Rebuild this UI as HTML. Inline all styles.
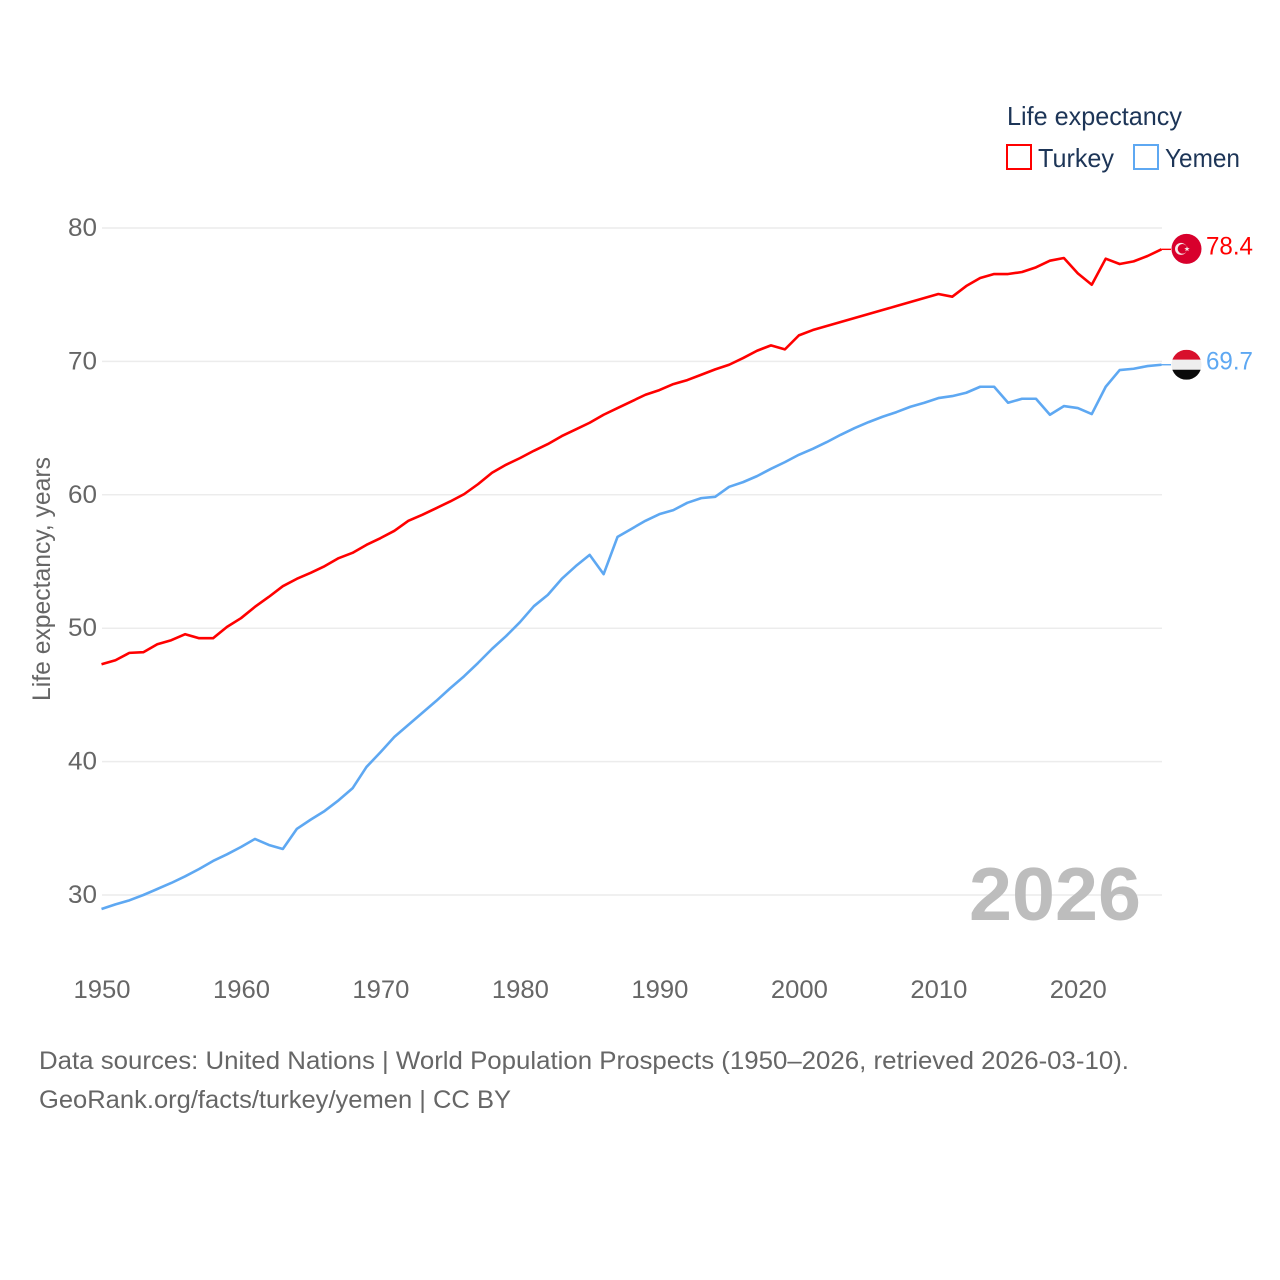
<!DOCTYPE html>
<html lang="en">
<head>
<meta charset="utf-8">
<title>Life expectancy: Turkey and Yemen</title>
<style>
  html, body { margin: 0; padding: 0; background: #fff; }
  svg { display: block; font-family: "Liberation Sans", sans-serif; }
  .tick { fill: #666; font-size: 25px; }
  .foot { fill: #666; font-size: 25px; }
  .leg { fill: #1d3557; font-size: 26px; }
</style>
</head>
<body>
<svg id="chart" xmlns="http://www.w3.org/2000/svg" width="1280" height="1280" viewBox="0 0 1280 1280">
  <defs>
    <clipPath id="flag-clip"><circle cx="0" cy="0" r="15"></circle></clipPath>
  </defs>
  <g id="grid"></g>
  <g id="yticks"></g>
  <g id="xticks"></g>
  <text class="tick" transform="translate(50,579) rotate(-90)" text-anchor="middle" textLength="244" lengthAdjust="spacingAndGlyphs">Life expectancy, years</text>
  <g id="series"></g>
  <text x="969" y="920" font-size="75" font-weight="700" fill="#bdbdbd" textLength="172" lengthAdjust="spacingAndGlyphs">2026</text>

  <g>
    <text class="leg" x="1007" y="125" textLength="175" lengthAdjust="spacingAndGlyphs">Life expectancy</text>
    <g>
      <rect x="1007" y="145" width="24" height="24" fill="none" stroke="#ff0000" stroke-width="2"></rect>
      <text class="leg" x="1038" y="167" textLength="76" lengthAdjust="spacingAndGlyphs">Turkey</text>
    </g>
    <g>
      <rect x="1134" y="145" width="24" height="24" fill="none" stroke="#5ea8f2" stroke-width="2"></rect>
      <text class="leg" x="1165" y="167" textLength="75" lengthAdjust="spacingAndGlyphs">Yemen</text>
    </g>
  </g>

  <g id="turkey-flag">
    <circle cx="0" cy="0" r="15" fill="#d8002c"></circle>
    <circle cx="-5.5" cy="0" r="6" fill="#f5e9ea"></circle>
    <circle cx="-4" cy="0" r="4.8" fill="#d8002c"></circle>
    <polygon points="0.5,-2.6 1.2,-0.7 3.2,-0.7 1.6,0.5 2.2,2.4 0.5,1.3 -1.2,2.4 -0.6,0.5 -2.2,-0.7 -0.2,-0.7" fill="#f5e9ea"></polygon>
  </g>
  <g id="yemen-flag">
    <g clip-path="url(#flag-clip)">
      <rect x="-15" y="-15" width="30" height="10" fill="#d8102c"></rect>
      <rect x="-15" y="-5" width="30" height="10" fill="#eeeeee"></rect>
      <rect x="-15" y="5" width="30" height="10" fill="#0a0a0a"></rect>
    </g>
  </g>
  <text id="turkey-value" font-size="25" fill="#ff0000" x="1206" textLength="47" lengthAdjust="spacingAndGlyphs"></text>
  <text id="yemen-value" font-size="25" fill="#5ea8f2" x="1206" textLength="47" lengthAdjust="spacingAndGlyphs"></text>

  <g>
    <text class="foot" x="39" y="1069" textLength="1090" lengthAdjust="spacingAndGlyphs">Data sources: United Nations | World Population Prospects (1950–2026, retrieved 2026-03-10).</text>
    <text class="foot" x="39" y="1108" textLength="472" lengthAdjust="spacingAndGlyphs">GeoRank.org/facts/turkey/yemen | CC BY</text>
  </g>
</svg>
<script>
const firstYear = 1950;
const xTickYears = [1950, 1960, 1970, 1980, 1990, 2000, 2010, 2020];
const yTickValues = [30, 40, 50, 60, 70, 80];
const turkeyValues = [
  47.3, 47.6, 48.15, 48.2, 48.8, 49.1, 49.55, 49.25, 49.25, 50.1,
  50.75, 51.6, 52.35, 53.15, 53.7, 54.15, 54.65, 55.25, 55.65, 56.25,
  56.75, 57.3, 58.05, 58.5, 59.0, 59.5, 60.05, 60.8, 61.65, 62.25,
  62.75, 63.3, 63.8, 64.4, 64.9, 65.4, 66.0, 66.5, 67.0, 67.5,
  67.85, 68.3, 68.6, 69.0, 69.4, 69.75, 70.25, 70.8, 71.2, 70.9,
  71.95, 72.35, 72.65, 72.95, 73.25, 73.55, 73.85, 74.15, 74.45, 74.75,
  75.05, 74.85, 75.65, 76.25, 76.55, 76.55, 76.7, 77.05, 77.55, 77.75,
  76.6, 75.75, 77.7, 77.3, 77.5, 77.9, 78.4
];
const yemenValues = [
  28.95, 29.3, 29.6, 30.0, 30.45, 30.9, 31.4, 31.95, 32.55, 33.05,
  33.6, 34.2, 33.75, 33.45, 34.95, 35.65, 36.3, 37.1, 38.0, 39.6,
  40.7, 41.85, 42.75, 43.65, 44.55, 45.5, 46.4, 47.4, 48.45, 49.4,
  50.45, 51.65, 52.5, 53.7, 54.65, 55.5, 54.05, 56.85, 57.45, 58.05,
  58.55, 58.85, 59.4, 59.75, 59.85, 60.6, 60.95, 61.4, 61.95, 62.45,
  63.0, 63.45, 63.95, 64.5, 65.0, 65.45, 65.85, 66.2, 66.6, 66.9,
  67.25, 67.4, 67.65, 68.1, 68.1, 66.9, 67.2, 67.2, 66.0, 66.65,
  66.5, 66.05, 68.1, 69.35, 69.45, 69.65, 69.75
];
const turkeyLabel = "78.4";
const yemenLabel = "69.7";

const NS = "http://www.w3.org/2000/svg";
function xScale(year) { return 101.5 + (year - 1950) * (1161.5 - 101.5) / 76; }
function yScale(value) { return 895 - (value - 30) * (895 - 228) / 50; }

const gridGroup = document.getElementById("grid");
const yTickGroup = document.getElementById("yticks");
const xTickGroup = document.getElementById("xticks");
const seriesGroup = document.getElementById("series");

yTickValues.forEach(function (v) {
  const line = document.createElementNS(NS, "line");
  
  
  line.setAttribute("x1", 102);
  line.setAttribute("x2", 1162);
  line.setAttribute("y1", yScale(v));
  line.setAttribute("y2", yScale(v));
  line.setAttribute("stroke", "#ececec");
  line.setAttribute("stroke-width", 1.5);
  gridGroup.appendChild(line);

  const t = document.createElementNS(NS, "text");
  
  
  t.setAttribute("class", "tick");
  t.setAttribute("x", 97);
  t.setAttribute("y", yScale(v) + 8);
  t.setAttribute("text-anchor", "end");
  t.setAttribute("textLength", 29);
  t.setAttribute("lengthAdjust", "spacingAndGlyphs");
  t.textContent = String(v);
  yTickGroup.appendChild(t);
});

xTickYears.forEach(function (yr) {
  const t = document.createElementNS(NS, "text");
  
  
  t.setAttribute("class", "tick");
  t.setAttribute("x", xScale(yr) + 0.5);
  t.setAttribute("y", 998);
  t.setAttribute("text-anchor", "middle");
  t.setAttribute("textLength", 57);
  t.setAttribute("lengthAdjust", "spacingAndGlyphs");
  t.textContent = String(yr);
  xTickGroup.appendChild(t);
});

function linePath(values) {
  return values.map(function (v, i) {
    return (i ? "L" : "M") + xScale(firstYear + i).toFixed(2) + " " + yScale(v).toFixed(2);
  }).join(" ");
}

const turkeyLine = document.createElementNS(NS, "path");


turkeyLine.setAttribute("d", linePath(turkeyValues));
turkeyLine.setAttribute("fill", "none");
turkeyLine.setAttribute("stroke", "#ff0000");
turkeyLine.setAttribute("stroke-width", 2.6);
turkeyLine.setAttribute("stroke-linejoin", "round");
seriesGroup.appendChild(turkeyLine);

const yemenLine = document.createElementNS(NS, "path");


yemenLine.setAttribute("d", linePath(yemenValues));
yemenLine.setAttribute("fill", "none");
yemenLine.setAttribute("stroke", "#5ea8f2");
yemenLine.setAttribute("stroke-width", 2.6);
yemenLine.setAttribute("stroke-linejoin", "round");
seriesGroup.appendChild(yemenLine);

function endLeader(value, color) {
  const l = document.createElementNS(NS, "line");
  
  
  l.setAttribute("x1", 1161.5);
  l.setAttribute("x2", 1171);
  l.setAttribute("y1", yScale(value));
  l.setAttribute("y2", yScale(value));
  l.setAttribute("stroke", color);
  l.setAttribute("stroke-width", 1.4);
  seriesGroup.appendChild(l);
}
const turkeyLast = turkeyValues[turkeyValues.length - 1];
const yemenLast = yemenValues[yemenValues.length - 1];
endLeader(turkeyLast, "#ff0000");
endLeader(yemenLast, "#5ea8f2");

document.getElementById("turkey-flag").setAttribute("transform", "translate(1186.5," + (yScale(turkeyLast) - 0.5) + ")");
document.getElementById("yemen-flag").setAttribute("transform", "translate(1186.5," + yScale(yemenLast) + ")");
const tv = document.getElementById("turkey-value");
tv.setAttribute("y", yScale(turkeyLast) + 5);
tv.textContent = turkeyLabel;
const yv = document.getElementById("yemen-value");
yv.setAttribute("y", yScale(yemenLast) + 5);
yv.textContent = yemenLabel;
</script>
</body>
</html>
